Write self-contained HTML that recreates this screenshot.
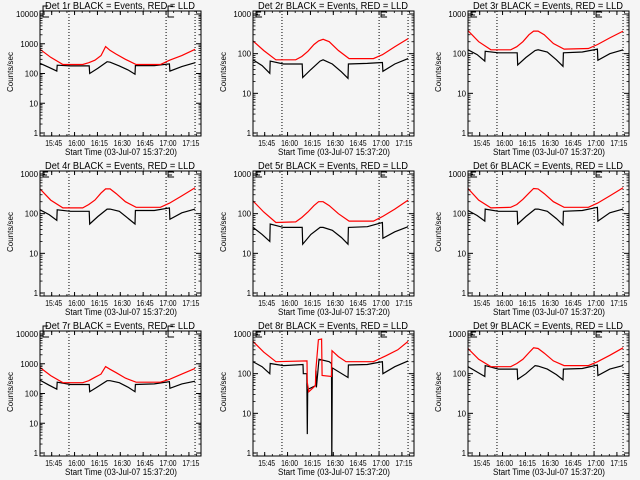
<!DOCTYPE html>
<html><head><meta charset="utf-8"><style>
html,body{margin:0;padding:0;background:#f5f5f5;}
svg{display:block;font-family:"Liberation Sans",sans-serif;}
</style></head><body>
<svg id="fig" width="640" height="480" viewBox="0 0 640 480" xmlns="http://www.w3.org/2000/svg">
<rect x="0" y="0" width="640" height="480" fill="#f5f5f5"/>
</svg>
<script>
// shared time knots (minutes after 15:37:20)
const blackT = [0,6,11,11.3,20,32.3,32.6,38,44,46,52,58,62.3,62.6,75,84.9,85.2,93,101.7];
const redT = [0,7,15,28,32,36,40,43,46,50,56,63,79,85,93,101.7];
const black1 = [220,160,120,190,180,180,100,150,250,240,180,130,95,185,185,210,120,170,230];
const black2 = [70,50,32,65,55,55,25,40,65,70,55,35,24,55,57,60,36,55,75];
const black3 = [125,95,65,115,105,105,52,80,120,125,110,70,48,105,110,130,68,100,125];
const black4 = [125,95,68,125,115,115,55,85,130,130,115,75,55,120,120,140,72,105,130];
const black5 = [45,30,20,55,45,45,17,30,45,45,38,25,17,45,47,60,24,35,47];
const black6 = [120,90,65,130,115,115,55,85,130,130,115,75,52,115,120,145,65,105,130];
const black7 = [280,190,140,240,200,200,115,170,270,270,230,160,115,200,210,250,150,210,260];
const black9 = [150,110,85,160,130,130,72,100,160,155,130,95,70,130,135,165,90,130,160];
const red1 = [650,350,200,200,230,280,400,800,600,450,300,200,200,280,400,650];
const red2 = [210,120,70,70,85,115,170,210,230,200,120,75,75,95,150,240];
const red3 = [380,200,125,125,150,200,300,370,370,300,180,130,135,170,250,370];
const red4 = [420,220,140,140,170,220,330,420,420,320,200,145,145,185,280,450];
const red5 = [210,110,60,62,80,110,160,200,200,160,100,65,65,85,130,220];
const red6 = [430,220,140,145,170,230,330,430,420,320,200,145,145,185,280,450];
const red7 = [750,400,230,230,270,350,450,800,650,500,330,240,240,300,450,700];
const red9 = [430,230,150,150,180,230,340,450,430,330,210,160,160,200,290,450];
// detector 8 has its own time knots
const blackT8 = [0,6,11,11.3,20,32.8,33,35.3,35.6,35.9,41,41.3,41.6,43.3,50,51.5,51.7,52,62.3,62.6,75,84.9,85.2,93,101.7];
const black8 = [200,150,100,180,160,170,100,100,3,40,50,120,45,230,200,180,0.5,140,80,165,170,200,100,150,210];
const redT8 = [0,7,15,35.4,35.6,36.6,40.9,41.2,42.9,45,45.3,51.5,51.8,56,61,79,87,95,101.7];
const red8 = [650,350,200,210,60,35,50,120,720,750,90,85,380,270,200,200,280,400,650];
const topDecades = [4,3,3,3,3,3,4,3,3];
const xTickLabels = ["15:45","16:00","16:15","16:30","16:45","17:00","17:15"];
const xTickTimes = [7.67,22.67,37.67,52.67,67.67,82.67,97.67];
const dottedTimes = [19,82.7,101.7];
const markerTimes = [2,84];

const NS="http://www.w3.org/2000/svg";
const svg=document.getElementById('fig');
function mk(tag,attrs,parent){const e=document.createElementNS(NS,tag);for(const k in attrs)e.setAttribute(k,attrs[k]);(parent||svg).appendChild(e);return e;}
const L=40,R=201,T=11,B=136,TMAX=105.6;
const panels=[
 [blackT,black1,redT,red1],[blackT,black2,redT,red2],[blackT,black3,redT,red3],
 [blackT,black4,redT,red4],[blackT,black5,redT,red5],[blackT,black6,redT,red6],
 [blackT,black7,redT,red7],[blackT8,black8,redT8,red8],[blackT,black9,redT,red9]];
const colX=[0,213,428];
panels.forEach((p,i)=>{
  const ox=colX[i%3], oy=Math.floor(i/3)*160, top=topDecades[i];
  const g=mk('g',{transform:`translate(${ox},${oy})`});
  
  
  const xs=t=>L+t*(R-L)/TMAX;
  const ys=v=>133-Math.log10(v)*(119/top);
  const cp=mk('clipPath',{id:'c'+i},g);mk('rect',{x:L,y:T,width:R-L,height:B-T},cp);
  dottedTimes.forEach(t=>{const l=mk('line',{x1:xs(t),x2:xs(t),y1:T,y2:B,stroke:'#000','stroke-width':1,'stroke-dasharray':'1 2'},g);
    
    });
  [[p[0],p[1],'#000','black-events-line'],[p[2],p[3],'#f00','red-lld-line']].forEach(([tt,vv,c,n])=>{
    const pts=tt.map((t,k)=>xs(t).toFixed(1)+','+ys(vv[k]).toFixed(1)).join(' ');
    const pl=mk('polyline',{points:pts,fill:'none',stroke:c,'stroke-width':1.2,'clip-path':`url(#c${i})`},g);
    
    
  });
  const bx=mk('rect',{x:L,y:T,width:R-L,height:B-T,fill:'none',stroke:'#000','stroke-width':1},g);
  
  
  for(let d=0;d<=top;d++){
    const y=ys(Math.pow(10,d));
    mk('line',{x1:L,x2:L+5,y1:y,y2:y,stroke:'#000'},g);
    mk('line',{x1:R,x2:R-5,y1:y,y2:y,stroke:'#000'},g);
    const s=String(Math.pow(10,d));
    const tx=mk('text',{x:38,y:y+3,'font-size':8.5,'text-anchor':'end',fill:'#000',textLength:(s.length*4.4).toFixed(1),lengthAdjust:'spacingAndGlyphs'},g);tx.textContent=s;
    
    
    if(d<top){for(let m=2;m<10;m++){const ym=ys(m*Math.pow(10,d));
      mk('line',{x1:L,x2:L+2.5,y1:ym,y2:ym,stroke:'#000','stroke-width':0.8},g);
      mk('line',{x1:R,x2:R-2.5,y1:ym,y2:ym,stroke:'#000','stroke-width':0.8},g);}}
  }
  for(let t=2.67;t<TMAX;t+=5){const x=xs(t);
    mk('line',{x1:x,x2:x,y1:B,y2:B-2,stroke:'#000','stroke-width':0.8},g);
    mk('line',{x1:x,x2:x,y1:T,y2:T+2,stroke:'#000','stroke-width':0.8},g);}
  xTickTimes.forEach((t,k)=>{const x=xs(t);
    mk('line',{x1:x,x2:x,y1:B,y2:B-4,stroke:'#000'},g);
    mk('line',{x1:x,x2:x,y1:T,y2:T+4,stroke:'#000'},g);
    const tx=mk('text',{x:x+2,y:146,'font-size':8,'text-anchor':'middle',fill:'#000',textLength:17,lengthAdjust:'spacingAndGlyphs'},g);tx.textContent=xTickLabels[k];
    
    });
  markerTimes.forEach(t=>{const x=xs(t);
    const y0=top===4?6:12;
    const m=mk('path',{d:`M${x+5},${y0}H${x}V${17}H${x+6}${top===3?`M${x},${y0+3}H${x+4}`:''}`,fill:'none',stroke:'#000','stroke-width':1},g);
    
    });
  const ti=mk('text',{x:120,y:9,'font-size':10,'text-anchor':'middle',fill:'#000',textLength:150,lengthAdjust:'spacingAndGlyphs'},g);
  ti.textContent=`Det ${i+1}r BLACK = Events, RED = LLD`;
  
  
  const xl=mk('text',{x:121,y:155,'font-size':9,'text-anchor':'middle',fill:'#000',textLength:112,lengthAdjust:'spacingAndGlyphs'},g);
  xl.textContent='Start Time (03-Jul-07 15:37:20)';
  
  
  const yl=mk('text',{x:0,y:0,'font-size':8,'text-anchor':'middle',fill:'#000',textLength:40,lengthAdjust:'spacingAndGlyphs',transform:'translate(13,72) rotate(-90)'},g);
  yl.textContent='Counts/sec';
  
  
});
</script>
</body></html>
